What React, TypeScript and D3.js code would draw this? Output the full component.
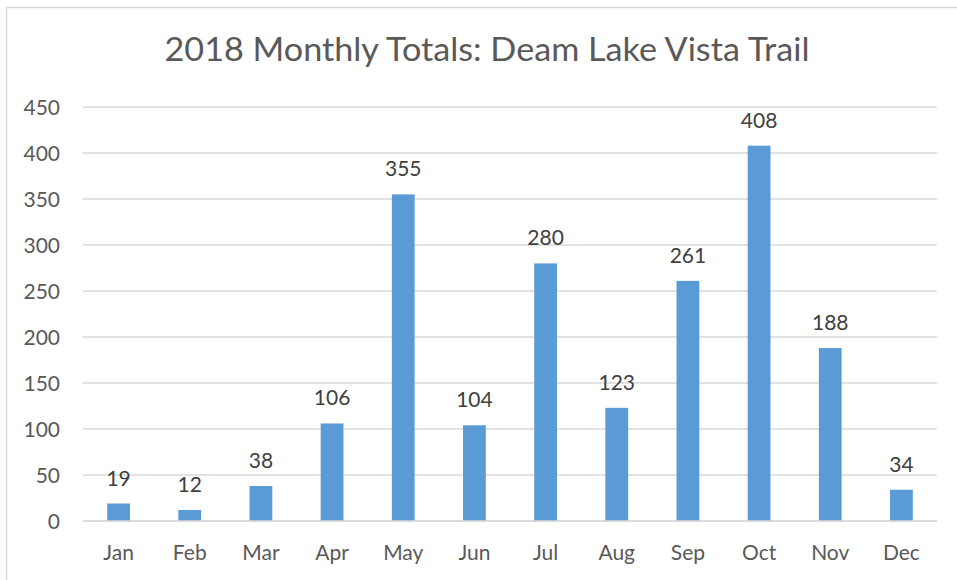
import React, { useEffect } from "react";
import * as d3 from "d3";

const months = ["Jan", "Feb", "Mar", "Apr", "May", "Jun", "Jul", "Aug", "Sep", "Oct", "Nov", "Dec"];
const totals = [19, 12, 38, 106, 355, 104, 280, 123, 261, 408, 188, 34];
const yTicks = [0, 50, 100, 150, 200, 250, 300, 350, 400, 450];
const title = "2018 Monthly Totals: Deam Lake Vista Trail";

const W = 957;
const H = 580;
const margin = { top: 107, right: 20, bottom: 59, left: 83 };
const font = "Lato, 'Open Sans', sans-serif";

const App = () => {
  useEffect(() => {
    document.body.style.margin = "0";
  }, []);

  const x = d3
    .scaleBand()
    .domain(months)
    .range([margin.left, W - margin.right])
    .paddingInner(0.68)
    .paddingOuter(0.34);
  const y = d3.scaleLinear().domain([0, 450]).range([H - margin.bottom, margin.top]);

  return (
    <svg width={W} height={H} style={{ display: "block", background: "#fff" }}>
      <rect x={6.5} y={7.5} width={W + 10} height={H + 10} fill="#fff" stroke="#d9d9d9" strokeWidth={1.5} />
      <text
        x={487}
        y={61}
        textAnchor="middle"
        fontFamily={font}
        fontSize={33}
        fill="#595959"
        textLength={645}
        lengthAdjust="spacingAndGlyphs"
      >
        {title}
      </text>
      {/* gridlines + y labels */}
      {yTicks.map((t) => (
        <g key={t}>
          <line
            x1={margin.left}
            x2={W - margin.right}
            y1={y(t)}
            y2={y(t)}
            stroke="#d9d9d9"
            strokeWidth={1.5}
          />
          <text
            x={60}
            y={y(t)}
            dy="0.36em"
            textAnchor="end"
            fontFamily={font}
            fontSize={21}
            fill="#595959"
          >
            {t}
          </text>
        </g>
      ))}
      {/* bars */}
      {months.map((m, i) => (
        <g key={m}>
          <rect
            x={x(m)}
            y={y(totals[i])}
            width={x.bandwidth()}
            height={y(0) - y(totals[i])}
            fill="#5b9bd5"
          />
          <text
            x={(x(m) as number) + x.bandwidth() / 2}
            y={y(totals[i]) - 18}
            textAnchor="middle"
            fontFamily={font}
            fontSize={21}
            fill="#404040"
          >
            {totals[i]}
          </text>
          <text
            x={(x(m) as number) + x.bandwidth() / 2}
            y={560}
            textAnchor="middle"
            fontFamily={font}
            fontSize={21}
            fill="#595959"
          >
            {m}
          </text>
        </g>
      ))}
      <line
        x1={margin.left}
        x2={W - margin.right}
        y1={y(0)}
        y2={y(0)}
        stroke="#d9d9d9"
        strokeWidth={1.5}
      />
    </svg>
  );
};

export default App;
